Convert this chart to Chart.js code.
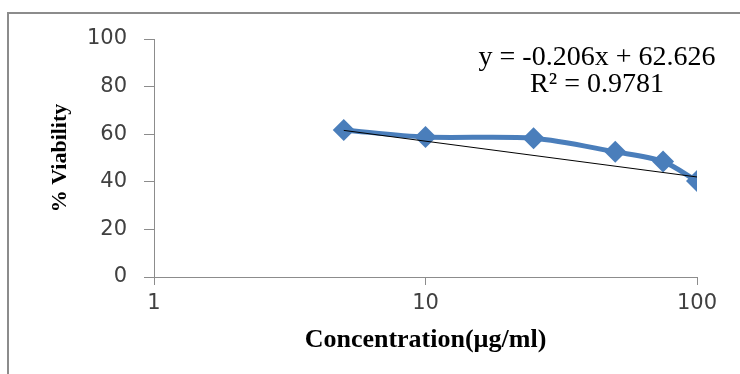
<!DOCTYPE html>
<html>
<head>
<meta charset="utf-8">
<script src="https://cdn.jsdelivr.net/npm/chart.js@4"></script>
<style>
    body { margin: 0; background: #fff; }
    #wrap { position: relative; width: 740px; height: 374px; }
</style>
</head>
<body>
<div id="wrap"><canvas id="viabilityChart"></canvas></div>
<script>
// data
const concentrations = [5, 10, 25, 50, 75, 100];
const viability = [61.8, 58.8, 58.3, 52.6, 48.5, 40.3];
const xTicks = [1, 10, 100];
const yTicks = [0, 20, 40, 60, 80, 100];

// linear trendline as printed on the chart
const slope = -0.206;
const intercept = 62.626;
const rSquared = 0.9781;

const trendX = [concentrations[0], concentrations[concentrations.length - 1]];
const trendPoints = trendX.map((x) => ({ x: x, y: intercept + slope * x }));

// FRAME + EQUATION

const framePlugin = {
    id: "frame",
    beforeDraw(chart) {
        const c = chart.ctx;
        c.save();
        c.strokeStyle = "#8c8c8c";
        c.lineWidth = 2;
        c.beginPath();
        c.moveTo(8, 374);
        c.lineTo(8, 13);
        c.lineTo(740, 13);
        c.stroke();
        c.restore();
    },
    afterDraw(chart) {
        const c = chart.ctx;
        const area = chart.chartArea;
        const cx = area.right - 100;
        c.save();
        c.fillStyle = "#000";
        c.font = "28px 'Liberation Serif'";
        c.textAlign = "center";
        c.textBaseline = "middle";
        c.fillText("y = " + slope + "x + " + intercept, cx, area.top + 19);
        c.fillText("R\u00b2 = " + rSquared, cx, area.top + 46);
        c.restore();
    },
};

const ctx = document.getElementById("viabilityChart");

new Chart(ctx, {
    type: "line",

    data: {
        datasets: [
            {
                label: "Viability",
                data: concentrations.map((x, i) => ({ x: x, y: viability[i] })),
                borderColor: "#4a7ebb",
                backgroundColor: "#4a7ebb",
                borderWidth: 5,
                tension: 0.3,
                pointStyle: "rectRot",
                pointRadius: 11,
                pointBorderWidth: 0,
                order: 2,
            },
            {
                label: "Trend",
                data: trendPoints,
                borderColor: "#000",
                borderWidth: 1,
                pointRadius: 0,
                order: 1,
            },
        ],
    },

    options: {
        responsive: true,
        maintainAspectRatio: false,
        animation: false,

        layout: {
            padding: { top: 39, right: 43, left: 0, bottom: 0 },
        },

        plugins: {
            legend: { display: false },
            tooltip: { enabled: false },
        },

        scales: {
            x: {
                type: "logarithmic",
                min: 1,
                max: 100,
                afterFit: (scale) => { scale.height = 97; },
                afterBuildTicks: (scale) => {
                    scale.ticks = xTicks.map((v) => ({ value: v }));
                },
                border: { color: "#8c8c8c", width: 1 },
                grid: {
                    drawOnChartArea: false,
                    tickColor: "#8c8c8c",
                    tickLength: 8,
                },
                ticks: {
                    color: "#404040",
                    font: { family: "'DejaVu Sans'", size: 21 },
                    padding: 6,
                    maxRotation: 0,
                    callback: (value) => String(value),
                },
                title: {
                    display: true,
                    text: "Concentration(\u00b5g/ml)",
                    color: "#000",
                    font: { family: "'Liberation Serif'", size: 26, weight: "bold" },
                    padding: { top: 0, bottom: 18 },
                },
            },
            y: {
                min: 0,
                max: 100,
                afterFit: (scale) => { scale.width = 154; },
                afterBuildTicks: (scale) => {
                    scale.ticks = yTicks.map((v) => ({ value: v }));
                },
                border: { color: "#8c8c8c", width: 1 },
                grid: {
                    drawOnChartArea: false,
                    tickColor: "#8c8c8c",
                    tickLength: 10,
                },
                ticks: {
                    color: "#404040",
                    font: { family: "'DejaVu Sans'", size: 21 },
                    padding: 17,
                },
                title: {
                    display: true,
                    text: "% Viability",
                    color: "#000",
                    font: { family: "'Liberation Serif'", size: 22, weight: "bold" },
                    padding: { top: 47, bottom: 0 },
                },
            },
        },
    },

    plugins: [framePlugin],
});
</script>
</body>
</html>
